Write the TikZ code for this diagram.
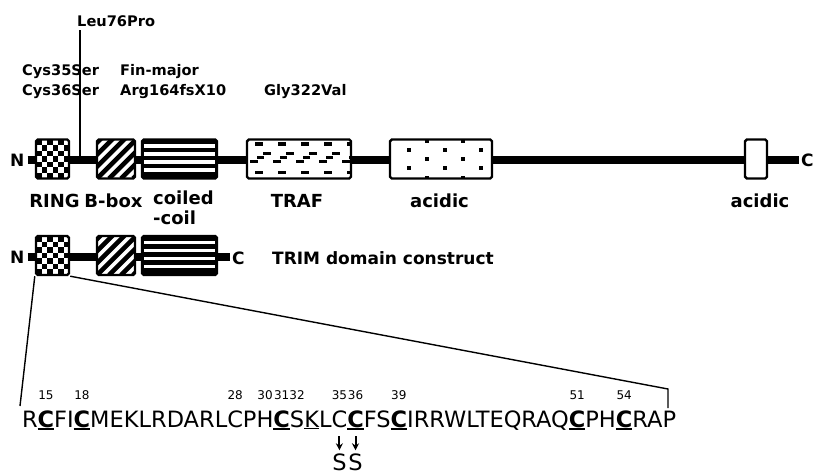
\documentclass[tikz,border=0pt]{standalone}
\usepackage{fontspec}
\setmainfont{DejaVu Sans}
\usetikzlibrary{arrows.meta, calc}

% underlined residues
\newcommand{\ulc}[1]{\setbox0=\hbox{#1}\rlap{\rule[-2.8pt]{\wd0}{1.9pt}}\box0}
\newcommand{\ulk}[1]{\setbox0=\hbox{#1}\rlap{\rule[-2.4pt]{\wd0}{1.1pt}}\box0}

\tikzset{
  dom/.style={draw, line width=2.4pt, rounded corners=1.8pt, minimum height=39pt, inner sep=0pt, fill=white},
  ringdom/.style={dom, minimum width=33pt, path picture={
    \coordinate (pp) at (path picture bounding box.north west);
    \foreach \i in {0,...,6} \foreach \j in {0,...,7} {
      \pgfmathtruncatemacro{\chk}{mod(\i+\j,2)}
      \ifnum\chk=0 \fill[black, sharp corners] ($(pp)+(\i*5.5,\j*5.5)$) rectangle ++(5.5,5.5);\fi
    }}},
  bdom/.style={dom, minimum width=38pt, path picture={
    \coordinate (pp) at (path picture bounding box.south west);
    \foreach \k in {-4,...,4}
      \draw[line width=4.6pt] ($(pp)+(\k*12,0)$) -- ++(50,-50);
    }},
  coildom/.style={dom, minimum width=75pt, path picture={
    \fill[black, sharp corners] (path picture bounding box.north west) rectangle (path picture bounding box.south east);
    \foreach \t in {4.5,12.5,20.5,28.5}
      \fill[white, sharp corners] ($(path picture bounding box.north west)+(2,\t)$) rectangle ($(path picture bounding box.north east)+(-2,\t+3.6)$);
    }},
  trafdom/.style={dom, minimum width=104pt, path picture={
    \coordinate (pp) at (path picture bounding box.north west);
    \foreach \k in {0,...,4} {
      \fill[black, sharp corners] ($(pp)+(\k*23+8,2.5)$) rectangle ++(8,3.6);
      \fill[black, sharp corners] ($(pp)+(\k*23+3,20)$) rectangle ++(8,3.6);
      \fill[black, sharp corners] ($(pp)+(\k*23+10,16)$) rectangle ++(7,3.6);
      \fill[black, sharp corners] ($(pp)+(\k*23+16,12)$) rectangle ++(8,3.6);
      \fill[black, sharp corners] ($(pp)+(\k*23+8,31)$) rectangle ++(8,3.6);
    }}},
  aciddom/.style={dom, minimum width=102pt, path picture={
    \coordinate (pp) at (path picture bounding box.north west);
    \foreach \k in {0,1,2} {
      \foreach \r in {10,28}
        \fill[black, sharp corners] ($(pp)+(\k*36+17,\r-2)$) rectangle ++(4,4);
      \foreach \r in {1,19,38}
        \fill[black, sharp corners] ($(pp)+(\k*36+35,\r-2)$) rectangle ++(4,4);
    }}},
  smalldom/.style={dom, minimum width=22pt},
  backbone/.style={line width=8pt},
  mut/.style={line width=1.3pt},
  zoomline/.style={line width=1.4pt},
  sarrow/.style={line width=2pt, -{Stealth[length=7pt, width=7pt]}},
  lab/.style={font=\bfseries\fontsize{18}{21}\selectfont, inner sep=0pt},
  endlab/.style={font=\bfseries\fontsize{17}{20}\selectfont, inner sep=0pt, anchor=base west},
  mutlab/.style={font=\bfseries\fontsize{14.6}{17}\selectfont, inner sep=0pt, anchor=base west},
  seq/.style={font=\fontsize{22.5}{26}\selectfont, inner sep=0pt, outer sep=0pt, anchor=base west},
  num/.style={font=\fontsize{12}{14}\selectfont, inner sep=0pt, anchor=base}
}

\begin{document}
\begin{tikzpicture}[x=1pt, y=-1pt]
  \useasboundingbox (0,0) rectangle (814,474);

  % full-length protein
  \node[endlab] (n1) at (10,166) {N};
  \node[endlab] (c1) at (801,166) {C};
  \draw[backbone, shorten <=3pt, shorten >=2pt] (n1.east) -- (n1.east -| c1.west);
  \coordinate (leupt) at (80,159);

  \node[ringdom] (ring1) at (52.5,159) {};
  \node[bdom] (bbox1) at (116,159) {};
  \node[coildom] (coil1) at (179.5,159) {};
  \node[trafdom] (traf) at (299,159) {};
  \node[aciddom] (acid1) at (441,159) {};
  \node[smalldom] (acid2) at (756,159) {};

  \node[lab, anchor=base] (ringlab) at (54.5,207) {RING};
  \node[lab, anchor=base] (bboxlab) at (113.5,207) {B-box};
  \node[lab, anchor=base west] (coillab) at (153,204) {coiled};
  \node[lab, anchor=base west] (coillab2) at (153,224) {-coil};
  \node[lab, anchor=base] (traflab) at (297,207) {TRAF};
  \node[lab, anchor=base] (acidlab1) at (439.5,207) {acidic};
  \node[lab, anchor=base] (acidlab2) at (760,207) {acidic};

  % mutations
  \node[mutlab] (leu) at (77,26) {Leu76Pro};
  \node[mutlab] (cys35) at (22,75) {Cys35Ser};
  \node[mutlab] (cys36) at (22,95) {Cys36Ser};
  \node[mutlab] (fin) at (120,75) {Fin-major};
  \node[mutlab] (arg) at (120,95) {Arg164fsX10};
  \node[mutlab] (gly) at (264,95) {Gly322Val};

  \draw[mut, shorten >=4pt] (leupt) -- (leupt |- leu.south);
  \draw[mut] ($(ring1.north)+(3.5,0)$) -- ($(ring1.north)+(3.5,0)$ |- cys36.south);
  \draw[mut] ($(coil1.north west)+(18,0)$) -- ($(coil1.north west)+(18,0)$ |- arg.south);
  \draw[mut] ($(traf.north west)+(31,0)$) -- ($(traf.north west)+(31,0)$ |- gly.south);

  % TRIM construct
  \node[endlab] (n2) at (10,263) {N};
  \node[endlab] (c2) at (232,264) {C};
  \draw[backbone, shorten <=3pt, shorten >=2pt] (n2.east) -- (n2.east -| c2.west);
  \node[ringdom] (ring2) at (52.5,255.5) {};
  \node[bdom] (bbox2) at (116,255.5) {};
  \node[coildom] (coil2) at (179.5,255.5) {};
  \node[endlab] (trim) at (272,264) {TRIM domain construct};

  % RING sequence
  \node[seq] (r14) at (22,427) {R};
  \node[seq] (p15) at (r14.base east) {\bfseries\ulc{C}};
  \node[seq] (fi) at (p15.base east) {FI};
  \node[seq] (p18) at (fi.base east) {\bfseries\ulc{C}};
  \node[seq] (mek) at (p18.base east) {MEKLRDARL};
  \node[seq] (p28) at (mek.base east) {C};
  \node[seq] (p29) at (p28.base east) {P};
  \node[seq] (p30) at (p29.base east) {H};
  \node[seq] (p31) at (p30.base east) {\bfseries\ulc{C}};
  \node[seq] (p32) at (p31.base east) {S};
  \node[seq] (k33) at (p32.base east) {\ulk{K}};
  \node[seq] (l34) at (k33.base east) {L};
  \node[seq] (p35) at (l34.base east) {C};
  \node[seq] (p36) at (p35.base east) {\bfseries\ulc{C}};
  \node[seq] (fs) at (p36.base east) {FS};
  \node[seq] (p39) at (fs.base east) {\bfseries\ulc{C}};
  \node[seq] (irr) at (p39.base east) {IRRWLTEQRAQ};
  \node[seq] (p51) at (irr.base east) {\bfseries\ulc{C}};
  \node[seq] (ph) at (p51.base east) {PH};
  \node[seq] (p54) at (ph.base east) {\bfseries\ulc{C}};
  \node[seq] (rap) at (p54.base east) {RAP};

  \coordinate (numrow) at (0,399);
  \foreach \n in {15,18,28,30,31,32,35,36,39,51,54}
    \node[num] (n\n) at (p\n.base |- numrow) {\n};

  % Cys to Ser
  \coordinate (serrow) at (0,470);
  \node[seq, anchor=base] (ser35) at (p35.base |- serrow) {S};
  \node[seq, anchor=base] (ser36) at (p36.base |- serrow) {S};
  \draw[sarrow, shorten <=9pt, shorten >=3pt] (p35.base) -- (ser35.north);
  \draw[sarrow, shorten <=9pt, shorten >=3pt] (p36.base) -- (ser36.north);

  % zoom lines
  \coordinate (zl) at (20,406);
  \coordinate (zr) at (668,389);
  \coordinate (zrb) at (668,408);
  \draw[zoomline] (ring2.south west) -- (zl);
  \draw[zoomline] (ring2.south east) -- (zr) -- (zrb);
\end{tikzpicture}
\end{document}
